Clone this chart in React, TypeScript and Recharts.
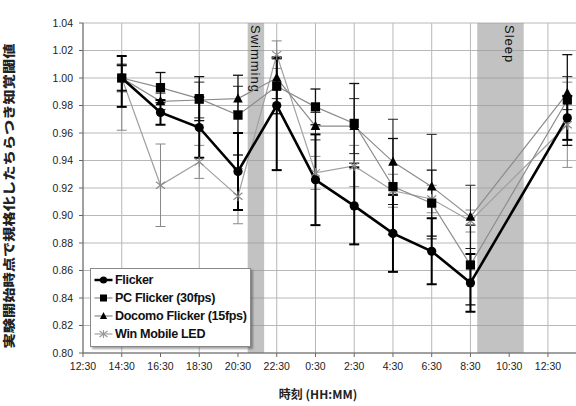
import React from "react"
import {
  LineChart,
  Line,
  XAxis,
  YAxis,
  CartesianGrid,
  ReferenceArea,
  ErrorBar,
  Legend,
} from "recharts"

// hours after 12:30 on day one
const times = [2, 4, 6, 8, 10, 12, 14, 16, 18, 20, 25]

const flicker = [1.0, 0.975, 0.964, 0.932, 0.98, 0.926, 0.907, 0.887, 0.874, 0.851, 0.971]
const pcFlicker = [1.0, 0.993, 0.985, 0.973, 0.994, 0.979, 0.967, 0.921, 0.909, 0.864, 0.984]
const docomoFlicker = [1.0, 0.983, 0.984, 0.985, 1.0, 0.965, 0.965, 0.939, 0.921, 0.899, 0.989]
const winMobile = [1.0, 0.922, 0.939, 0.914, 1.017, 0.931, 0.936, 0.918, 0.912, 0.896, 0.966]

// [minus, plus]
const flickerErr = [
  [0.021, 0.016], [0.009, 0.009], [0.022, 0.022], [0.028, 0.028], [0.047, 0.035], [0.033, 0.033],
  [0.028, 0.028], [0.028, 0.028], [0.024, 0.024], [0.021, 0.021], [0.016, 0.016],
]
const pcErr = [
  [0.009, 0.009], [0.011, 0.011], [0.016, 0.016], [0.029, 0.029], [0.02, 0.02], [0.013, 0.013],
  [0.029, 0.029], [0.035, 0.035], [0.024, 0.024], [0.029, 0.029], [0.033, 0.033],
]
const docomoErr = [
  [0.01, 0.01], [0.006, 0.006], [0.013, 0.013], [0.009, 0.009], [0.015, 0.015], [0.01, 0.01],
  [0.02, 0.02], [0.031, 0.031], [0.038, 0.038], [0.023, 0.023], [0.012, 0.012],
]
const winErr = [
  [0.038, 0.01], [0.03, 0.03], [0.012, 0.012], [0.02, 0.02], [0.01, 0.01], [0.012, 0.012],
  [0.015, 0.015], [0.012, 0.012], [0.01, 0.01], [0.008, 0.008], [0.031, 0.031],
]

const xTicks = [0, 2, 4, 6, 8, 10, 12, 14, 16, 18, 20, 22, 24]
const xTickLabels = ["12:30", "14:30", "16:30", "18:30", "20:30", "22:30", "0:30", "2:30", "4:30", "6:30", "8:30", "10:30", "12:30"]
const minorTicks = Array.from({ length: 52 }, (_, i) => i * 0.5)
const yTicks = [0.8, 0.82, 0.84, 0.86, 0.88, 0.9, 0.92, 0.94, 0.96, 0.98, 1.0, 1.02, 1.04]

const bands = [
  { name: "Swimming", from: 8.5, to: 9.35, pos: 0.5 },
  { name: "Sleep", from: 20.35, to: 22.75, pos: 0.7 },
]

const seriesNames = ["Flicker", "PC Flicker (30fps)", "Docomo Flicker (15fps)", "Win Mobile LED"]

const data = times.map((t, i) => ({
  t,
  flicker: flicker[i],
  pc: pcFlicker[i],
  docomo: docomoFlicker[i],
  win: winMobile[i],
  flickerErr: flickerErr[i],
  pcErr: pcErr[i],
  docomoErr: docomoErr[i],
  winErr: winErr[i],
}))

const font = '"Liberation Sans", Arial, sans-serif'

const circleDot = (p: any) => <circle key={p.index} cx={p.cx} cy={p.cy} r={4.6} fill="#000" />
const squareDot = (p: any) => <rect key={p.index} x={p.cx - 4.6} y={p.cy - 4.6} width={9.2} height={9.2} fill="#000" />
const triangleDot = (p: any) => (
  <polygon key={p.index} points={`${p.cx},${p.cy - 5.5} ${p.cx - 4.8},${p.cy + 3.8} ${p.cx + 4.8},${p.cy + 3.8}`} fill="#000" />
)
const starDot = (p: any) => (
  <g key={p.index} stroke="#8a8a8a" strokeWidth={1.1}>
    <line x1={p.cx - 4.5} y1={p.cy - 3.5} x2={p.cx + 4.5} y2={p.cy + 3.5} />
    <line x1={p.cx - 4.5} y1={p.cy + 3.5} x2={p.cx + 4.5} y2={p.cy - 3.5} />
    <line x1={p.cx} y1={p.cy - 5} x2={p.cx} y2={p.cy + 5} />
  </g>
)

function BandLabel({ viewBox, text, pos }: any) {
  const cx = viewBox.x + viewBox.width * pos
  const y = viewBox.y + 2
  return (
    <text
      transform={`translate(${cx}, ${y}) rotate(90)`}
      textAnchor="start"
      dominantBaseline="central"
      fontSize={13}
      letterSpacing={1}
      fontFamily={font}
      fill="#111"
    >
      {text}
    </text>
  )
}

const legendIcons = [
  (x: number, y: number) => (
    <g>
      <line x1={x - 9} y1={y} x2={x + 9} y2={y} stroke="#000" strokeWidth={2.5} />
      <circle cx={x} cy={y} r={3.6} fill="#000" />
    </g>
  ),
  (x: number, y: number) => (
    <g>
      <line x1={x - 9} y1={y} x2={x + 9} y2={y} stroke="#888" strokeWidth={1.2} />
      <rect x={x - 3.5} y={y - 3.5} width={7} height={7} fill="#000" />
    </g>
  ),
  (x: number, y: number) => (
    <g>
      <line x1={x - 9} y1={y} x2={x + 9} y2={y} stroke="#888" strokeWidth={1.2} />
      <polygon points={`${x},${y - 4} ${x - 3.6},${y + 3} ${x + 3.6},${y + 3}`} fill="#000" />
    </g>
  ),
  (x: number, y: number) => (
    <g stroke="#999" strokeWidth={1.1}>
      <line x1={x - 9} y1={y} x2={x + 9} y2={y} />
      <line x1={x - 4} y1={y - 3} x2={x + 4} y2={y + 3} />
      <line x1={x - 4} y1={y + 3} x2={x + 4} y2={y - 3} />
      <line x1={x} y1={y - 4} x2={x} y2={y + 4} />
    </g>
  ),
]

function LegendBox() {
  return (
    <div
      style={{
        width: 161,
        height: 79,
        border: "1px solid #888",
        background: "#fff",
        boxShadow: "2px 2px 2px rgba(0,0,0,0.35)",
        padding: "2px 0 0 2px",
        boxSizing: "border-box",
      }}
    >
      {seriesNames.map((name, i) => (
        <div key={name} style={{ display: "flex", alignItems: "center", height: 18 }}>
          <svg width={21} height={12} style={{ flex: "none" }}>
            {legendIcons[i](10.5, 6)}
          </svg>
          <span
            style={{
              fontFamily: font,
              fontWeight: "bold",
              fontSize: 12.6,
              letterSpacing: -0.35,
              color: "#111",
              whiteSpace: "nowrap",
              marginLeft: 1,
            }}
          >
            {name}
          </span>
        </div>
      ))}
    </div>
  )
}

export default function App() {
  return (
    <div style={{ position: "absolute", left: 0, top: 0, width: 576, height: 406, overflow: "hidden", background: "#fff" }}>
      <LineChart width={580} height={406} data={data} margin={{ top: 23, right: 3, bottom: 33, left: 0 }}>
        <CartesianGrid stroke="#b8b8b8" strokeWidth={1} />
        {bands.map((b) => (
          <ReferenceArea
            key={b.name}
            x1={b.from}
            x2={b.to}
            y1={0.8}
            y2={1.04}
            fill="#999"
            fillOpacity={0.6}
            stroke="none"
            label={(props: any) => <BandLabel {...props} text={b.name} pos={b.pos} />}
          />
        ))}
        <XAxis
          xAxisId="minor"
          type="number"
          dataKey="t"
          domain={[0, 25.5]}
          ticks={minorTicks}
          tick={false}
          tickSize={3}
          mirror
          axisLine={false}
          height={0}
          stroke="#777"
        />
        <XAxis
          type="number"
          dataKey="t"
          domain={[0, 25.5]}
          ticks={xTicks}
          tickFormatter={(v: number) => xTickLabels[xTicks.indexOf(v)] ?? ""}
          tickSize={4}
          tickMargin={6}
          height={20}
          stroke="#666"
          tick={{ fontSize: 10.5, fill: "#222", fontFamily: font }}
        />
        <YAxis
          type="number"
          domain={[0.8, 1.04]}
          ticks={yTicks}
          tickFormatter={(v: number) => v.toFixed(2)}
          width={83}
          tickSize={4}
          tickMargin={6}
          stroke="#666"
          tick={{ fontSize: 10.5, fill: "#222", fontFamily: font }}
        />
        <Line dataKey="win" stroke="#a0a0a0" strokeWidth={1.2} dot={starDot} activeDot={false} isAnimationActive={false}>
          <ErrorBar dataKey="winErr" width={5} stroke="#888" strokeWidth={1} direction="y" isAnimationActive={false} />
        </Line>
        <Line dataKey="docomo" stroke="#8c8c8c" strokeWidth={1.2} dot={triangleDot} activeDot={false} isAnimationActive={false}>
          <ErrorBar dataKey="docomoErr" width={5} stroke="#222" strokeWidth={1} direction="y" isAnimationActive={false} />
        </Line>
        <Line dataKey="pc" stroke="#8c8c8c" strokeWidth={1.2} dot={squareDot} activeDot={false} isAnimationActive={false}>
          <ErrorBar dataKey="pcErr" width={5} stroke="#111" strokeWidth={1.3} direction="y" isAnimationActive={false} />
        </Line>
        <Line dataKey="flicker" stroke="#000" strokeWidth={2.6} dot={circleDot} activeDot={false} isAnimationActive={false}>
          <ErrorBar dataKey="flickerErr" width={5} stroke="#000" strokeWidth={2} direction="y" isAnimationActive={false} />
        </Line>
        <Legend
          layout="vertical"
          align="center"
          verticalAlign="middle"
          content={() => <LegendBox />}
          wrapperStyle={{ left: 90, top: 268, width: 162, height: 80 }}
        />
      </LineChart>
      <div
        style={{
          position: "absolute",
          left: 8,
          top: 196,
          transform: "translate(-50%, -50%) rotate(-90deg) scaleX(1.27)",
          whiteSpace: "nowrap",
          fontFamily: '"Noto Sans CJK JP", sans-serif',
          fontWeight: 900,
          fontSize: 12,
          lineHeight: "13px",
          color: "#222",
        }}
      >
        実験開始時点で規格化したちらつき知覚閾値
      </div>
      <div
        style={{
          position: "absolute",
          left: 318,
          top: 393,
          transform: "translate(-50%, -50%)",
          whiteSpace: "nowrap",
          fontFamily: '"Noto Sans CJK JP", sans-serif',
          fontWeight: "bold",
          fontSize: 12,
          color: "#222",
        }}
      >
        時刻 (HH:MM)
      </div>
    </div>
  )
}
